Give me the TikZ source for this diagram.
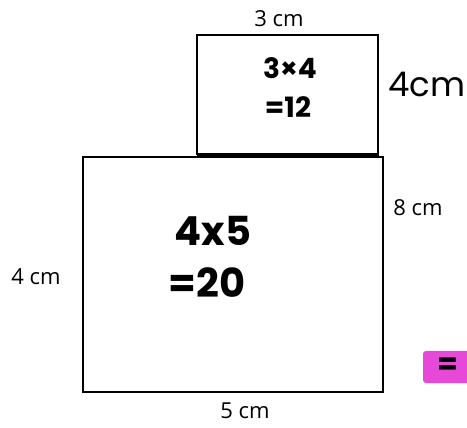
\documentclass[tikz,border=0pt]{standalone}
\usepackage{fontspec}
\setmainfont{Open Sans}
\newfontfamily\hand{Poppins}
\definecolor{pinkmark}{HTML}{E648D8}
\begin{document}
\begin{tikzpicture}[x=1pt,y=-1pt,
  outline/.style={draw=black,line width=1.8pt},
  lbl/.style={font=\fontsize{22}{24}\selectfont,inner sep=0pt},
  hw/.style={font=\hand\bfseries\fontsize{28}{30}\selectfont,inner sep=0pt},
  hwbig/.style={font=\hand\bfseries\fontsize{40}{42}\selectfont,inner sep=0pt}]
\useasboundingbox (0,0) rectangle (467,428);
\fill[white] (0,0) rectangle (467,428);
% shapes
\draw[outline] (83,157) rectangle (383,392);
\draw[outline] (197,155) -- (197,35) -- (378,35) -- (378,157);
\draw[black,line width=3.2pt] (197,155) -- (378,155);
% pink mark
\fill[pinkmark,rounded corners=3pt] (423,351) rectangle (472,383);
\node[inner sep=0pt,font=\hand\bfseries\fontsize{30}{30}\selectfont] (eq) at (448,366) {=};
% labels
\node[lbl] (t3) at (279,19) {3 cm};
\node[lbl] (r8) at (418,208) {8 cm};
\node[lbl] (l4) at (36,277) {4 cm};
\node[lbl] (b5) at (245,411) {5 cm};
\node[inner sep=0pt,font=\hand\fontsize{34}{36}\selectfont] (r4) at (427,84) {4cm};
\node[hw] (a1) at (290,68) {3×4};
\node[hw] (a2) at (288,107) {=12};
\node[hwbig] (b1) at (213,231) {4x5};
\node[hwbig] (b2) at (207,283) {=20};
\end{tikzpicture}
\end{document}
